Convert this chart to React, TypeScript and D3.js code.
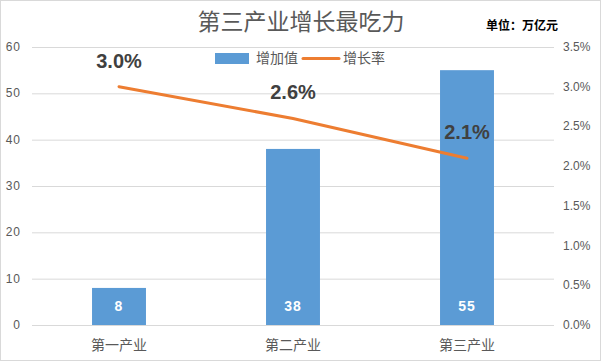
import * as d3 from 'd3';
import React, { useEffect, useRef } from 'react';

const categories = ['第一产业', '第二产业', '第三产业'];
const addedValue = [8, 38, 55];
const growthRate = [3.0, 2.6, 2.1];
const leftTicks = [0, 10, 20, 30, 40, 50, 60];
const rightTicks = [0, 0.5, 1, 1.5, 2, 2.5, 3, 3.5];

const W = 603;
const H = 363;

const App: React.FC = () => {
  const svgRef = useRef<SVGSVGElement>(null);

  useEffect(() => {
    const svg = d3.select(svgRef.current);
    svg.selectAll('*').remove();

    const font = '"Liberation Sans", Arial, "Noto Sans CJK SC", sans-serif';
    const plot = { left: 32, right: 554, top: 47, bottom: 325 };

    svg
      .append('rect')
      .attr('x', 0.5)
      .attr('y', 0.5)
      .attr('width', W - 3)
      .attr('height', H - 3)
      .attr('fill', '#fff')
      .attr('stroke', '#d9d9d9');

    const x = d3.scaleBand().domain(categories).range([plot.left, plot.right]).paddingInner(0.69).paddingOuter(0.345);
    const y = d3.scaleLinear().domain([0, 60]).range([plot.bottom, plot.top]);
    const y2 = d3.scaleLinear().domain([0, 3.5]).range([plot.bottom, plot.top]);

    // grid
    svg
      .append('g')
      .selectAll('line')
      .data(leftTicks)
      .enter()
      .append('line')
      .attr('x1', plot.left)
      .attr('x2', plot.right)
      .attr('y1', (d) => y(d) + 0.5)
      .attr('y2', (d) => y(d) + 0.5)
      .attr('stroke', '#d9d9d9');

    // left axis labels
    svg
      .append('g')
      .selectAll('text')
      .data(leftTicks)
      .enter()
      .append('text')
      .attr('x', 21)
      .attr('y', (d) => y(d) + 4)
      .attr('text-anchor', 'end')
      .attr('font-family', font)
      .attr('font-size', 12)
      .attr('letter-spacing', 1)
      .attr('fill', '#595959')
      .text((d) => d);

    // right axis labels
    svg
      .append('g')
      .selectAll('text')
      .data(rightTicks)
      .enter()
      .append('text')
      .attr('x', 563)
      .attr('y', (d) => y2(d) + 4)
      .attr('font-family', font)
      .attr('font-size', 12)
      .attr('fill', '#595959')
      .text((d) => d.toFixed(1) + '%');

    // bars
    svg
      .append('g')
      .selectAll('rect')
      .data(addedValue)
      .enter()
      .append('rect')
      .attr('x', (_, i) => x(categories[i])!)
      .attr('width', x.bandwidth())
      .attr('y', (d) => y(d))
      .attr('height', (d) => plot.bottom - y(d))
      .attr('fill', '#5b9bd5');

    svg
      .append('g')
      .selectAll('text')
      .data(addedValue)
      .enter()
      .append('text')
      .attr('x', (_, i) => x(categories[i])! + x.bandwidth() / 2)
      .attr('y', 311)
      .attr('text-anchor', 'middle')
      .attr('font-family', font)
      .attr('font-size', 14)
      .attr('font-weight', 'bold')
      .attr('letter-spacing', 1)
      .attr('fill', '#fff')
      .text((d) => d);

    // category labels
    svg
      .append('g')
      .selectAll('text')
      .data(categories)
      .enter()
      .append('text')
      .attr('x', (d) => x(d)! + x.bandwidth() / 2)
      .attr('y', 350)
      .attr('text-anchor', 'middle')
      .attr('font-family', font)
      .attr('font-size', 14)
      .attr('fill', '#595959')
      .text((d) => d);

    // growth line
    const line = d3
      .line<number>()
      .x((_, i) => x(categories[i])! + x.bandwidth() / 2)
      .y((d) => y2(d));

    svg
      .append('path')
      .datum(growthRate)
      .attr('fill', 'none')
      .attr('stroke', '#ed7d31')
      .attr('stroke-width', 3)
      .attr('stroke-linecap', 'round')
      .attr('d', line);

    svg
      .append('g')
      .selectAll('text')
      .data(growthRate)
      .enter()
      .append('text')
      .attr('x', (_, i) => x(categories[i])! + x.bandwidth() / 2)
      .attr('y', (d) => y2(d) - 19)
      .attr('text-anchor', 'middle')
      .attr('font-family', font)
      .attr('font-size', 20)
      .attr('font-weight', 'bold')
      .attr('fill', '#404040')
      .text((d) => d.toFixed(1) + '%');

    // title
    svg
      .append('text')
      .attr('x', 301)
      .attr('y', 30)
      .attr('text-anchor', 'middle')
      .attr('font-family', font)
      .attr('font-size', 23)
      .attr('fill', '#595959')
      .text('第三产业增长最吃力');

    svg
      .append('text')
      .attr('x', 558)
      .attr('y', 30)
      .attr('text-anchor', 'end')
      .attr('font-family', font)
      .attr('font-size', 12)
      .attr('font-weight', 'bold')
      .attr('fill', '#000')
      .text('单位：万亿元');

    // legend
    const lg = svg.append('g');
    lg.append('rect').attr('x', 215).attr('y', 53).attr('width', 34).attr('height', 11).attr('fill', '#5b9bd5');
    lg.append('text')
      .attr('x', 256)
      .attr('y', 63)
      .attr('font-family', font)
      .attr('font-size', 14)
      .attr('fill', '#595959')
      .text('增加值');
    lg.append('line')
      .attr('x1', 303)
      .attr('x2', 339)
      .attr('y1', 58.5)
      .attr('y2', 58.5)
      .attr('stroke', '#ed7d31')
      .attr('stroke-width', 3)
      .attr('stroke-linecap', 'round');
    lg.append('text')
      .attr('x', 343)
      .attr('y', 63)
      .attr('font-family', font)
      .attr('font-size', 14)
      .attr('fill', '#595959')
      .text('增长率');
  }, []);

  return <svg ref={svgRef} width={W} height={H} style={{ display: 'block', position: 'absolute', left: 0, top: 0 }} />;
};

export default App;
